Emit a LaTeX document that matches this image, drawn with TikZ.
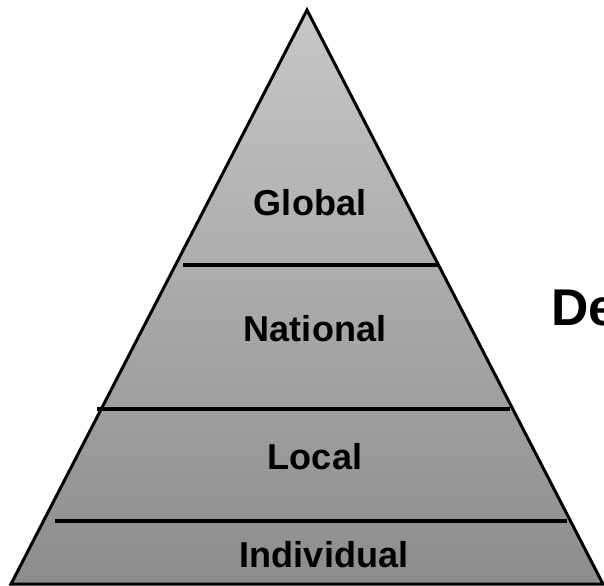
\documentclass[tikz,border=0pt]{standalone}
\usepackage{fontspec}
\setmainfont{Liberation Sans}

\begin{document}
\begin{tikzpicture}[x=0.02cm,y=-0.02cm,
        level/.style={font=\fontsize{20.5}{24}\selectfont\bfseries, anchor=base, inner sep=0pt},
        divider/.style={line width=1.9pt}]
    \useasboundingbox (0,0) rectangle (604,585);
    % corners of the pyramid
    \coordinate (apex) at (307,10);
    \coordinate (baseL) at (11,584);
    \coordinate (baseR) at (603,584);
    \shadedraw[top color=black!22, bottom color=black!45, draw=black, line width=1.7pt]
        (baseL) -- (apex) -- (baseR) -- cycle;
    % dividers between the levels
    \coordinate (d1L) at (183,265); \coordinate (d1R) at (438,265);
    \coordinate (d2L) at (97,409);  \coordinate (d2R) at (510,409);
    \coordinate (d3L) at (55,521);  \coordinate (d3R) at (567,521);
    \draw[divider] (d1L) -- (d1R);
    \draw[divider] (d2L) -- (d2R);
    \draw[divider] (d3L) -- (d3R);
    % level labels
    \node[level] (global) at (310,215) {Global};
    \node[level] (national) at (315,341) {National};
    \node[level] (local) at (315,469) {Local};
    \node[level] (individual) at (324,567) {Individual};
    \node[font=\fontsize{29.4}{34}\selectfont\bfseries, anchor=base west, inner sep=0pt] (side) at (551,325) {De};
\end{tikzpicture}
\end{document}
